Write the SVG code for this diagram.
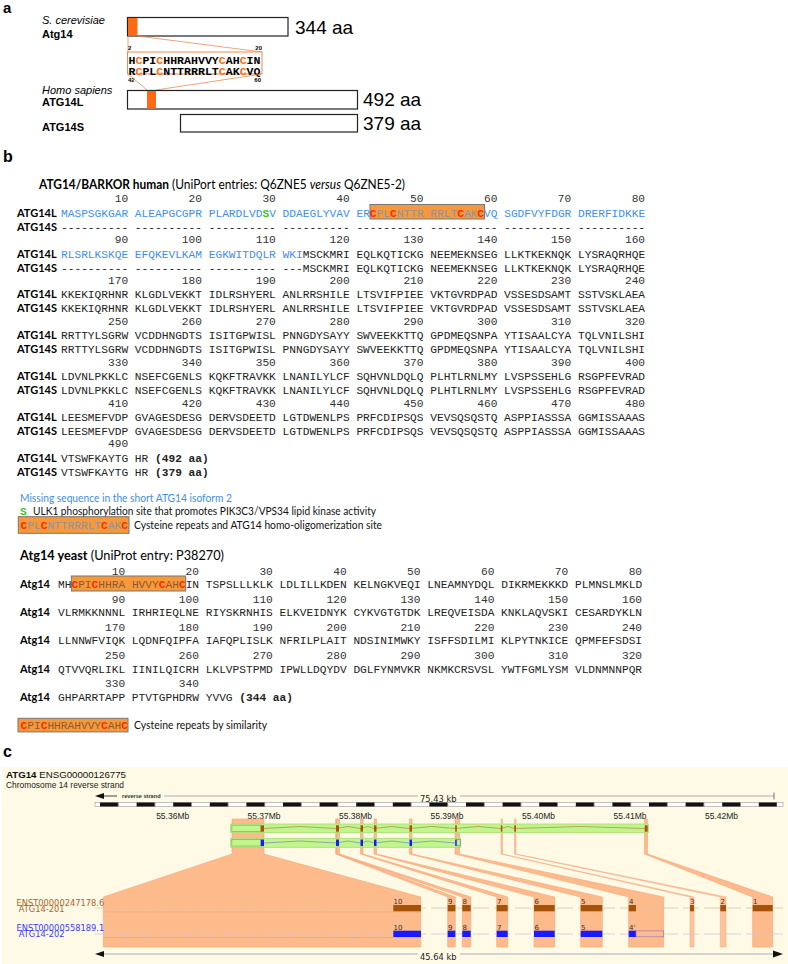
<svg xmlns="http://www.w3.org/2000/svg" width="788" height="964" viewBox="0 0 788 964">
<style>
.sans{font-family:"Liberation Sans",Arial,sans-serif}
.cal{font-family:Lato,"Liberation Sans",sans-serif}
.mono{font-family:"Liberation Mono","Courier New",monospace;font-size:11.2px;fill:#222}
.lab{font-family:Lato,"Liberation Sans",sans-serif;font-weight:700;font-size:11px;fill:#000}
.num{fill:#333}
.bl{fill:#3d8ef2}
.rc{fill:#ff2a00;font-weight:700}
.gh{fill:#8c93a8}
.gy{fill:#8b5a32}
.gr{fill:#33cc11;font-weight:700}
.b{font-weight:700}
.dj{font-family:"DejaVu Sans",sans-serif}
.obox{fill:#f7993a;stroke:#777;stroke-width:1}
.bar{fill:#fff;stroke:#222;stroke-width:1.2}
.oc{fill:#ff6a13}
.band{fill:#fdbb8c;stroke:#f5a277;stroke-width:0.6}
.grn{fill:#c2f58c;stroke:#a6dc74;stroke-width:0.8}
.brn{fill:#a5520a}
.blu{fill:#1a1aff}
.en{font-family:"DejaVu Sans",sans-serif;font-size:7px;fill:#333}
</style>
<defs>
<pattern id="scl" patternUnits="userSpaceOnUse" x="100" y="0" width="36.6" height="964">
<rect x="0" y="0" width="18.3" height="964" fill="#111"/>
</pattern>
</defs>
<rect width="788" height="964" fill="#fff"/>

<!-- Panel a -->
<g id="panel-a">
<text x="3" y="13" class="sans b" font-size="15">a</text>
<g id="yeast-bar">
<text x="42" y="23.5" class="sans" font-size="11" font-style="italic">S. cerevisiae</text>
<text x="42" y="37.5" class="sans b" font-size="11">Atg14</text>
<rect x="127.5" y="17.5" width="160.5" height="18.5" class="bar"/>
<rect x="128" y="18" width="9.5" height="17.5" fill="#ff6a13"/>
<text x="295" y="33.5" class="sans" font-size="19">344 aa</text>
</g>
<g id="seq-box">
<line x1="128" y1="36" x2="128" y2="52" stroke="#f08a50" stroke-width="0.8"/>
<line x1="137.5" y1="36" x2="262" y2="52" stroke="#f08a50" stroke-width="0.8"/>
<rect x="127.5" y="52" width="134.5" height="22" fill="#fff" stroke="#f08a50" stroke-width="1"/>
<text x="128" y="50" font-family="Liberation Sans,sans-serif" font-size="6" font-weight="700">2</text>
<text x="262" y="50" font-family="Liberation Sans,sans-serif" font-size="6" font-weight="700" text-anchor="end">20</text>
<text x="128.5" y="63.5" font-family="Liberation Mono,monospace" font-size="11.5" font-weight="700" textLength="132" lengthAdjust="spacingAndGlyphs">H<tspan class="oc">C</tspan>PI<tspan class="oc">C</tspan>HHRAHVVY<tspan class="oc">C</tspan>AH<tspan class="oc">C</tspan>IN</text>
<text x="128.5" y="75" font-family="Liberation Mono,monospace" font-size="11.5" font-weight="700" textLength="132" lengthAdjust="spacingAndGlyphs">R<tspan class="oc">C</tspan>PL<tspan class="oc">C</tspan>NTTRRRLT<tspan class="oc">C</tspan>AK<tspan class="oc">C</tspan>VQ</text>
<text x="128" y="81.5" font-family="Liberation Sans,sans-serif" font-size="6" font-weight="700">42</text>
<text x="261" y="81.5" font-family="Liberation Sans,sans-serif" font-size="6" font-weight="700" text-anchor="end">60</text>
<line x1="128" y1="74" x2="147" y2="90" stroke="#f08a50" stroke-width="0.8"/>
<line x1="262" y1="74" x2="156" y2="90" stroke="#f08a50" stroke-width="0.8"/>
</g>
<g id="human-L-bar">
<text x="42" y="94" class="sans" font-size="11" font-style="italic">Homo sapiens</text>
<text x="42" y="106" class="sans b" font-size="11">ATG14L</text>
<rect x="127.5" y="90.5" width="230" height="18.5" class="bar"/>
<rect x="147" y="91" width="9" height="17.5" fill="#ff6a13"/>
<text x="363" y="106" class="sans" font-size="19">492 aa</text>
</g>
<g id="human-S-bar">
<text x="42" y="130.5" class="sans b" font-size="11">ATG14S</text>
<rect x="180.5" y="114.5" width="177" height="17.5" class="bar"/>
<text x="363" y="130" class="sans" font-size="19">379 aa</text>
</g>
</g>

<!-- Panel b -->
<g id="panel-b">
<text x="3" y="162" class="sans b" font-size="16">b</text>
<text x="39" y="189" class="cal" font-size="13" textLength="366" lengthAdjust="spacingAndGlyphs"><tspan class="b">ATG14/BARKOR human</tspan> (UniPort entries: Q6ZNE5 <tspan font-style="italic">versus</tspan> Q6ZNE5-2)</text>

<g id="human-alignment">
<rect x="370" y="204.5" width="114.5" height="14.5" class="obox"/>
<text x="61" y="202" class="mono num" xml:space="preserve">        10         20         30         40         50         60         70         80</text>
<text x="17" y="216.5" class="lab">ATG14L</text>
<text x="61" y="216.5" class="mono" xml:space="preserve"><tspan class="bl">MASPSGKGAR ALEAPGCGPR PLARDLVD</tspan><tspan class="gr">S</tspan><tspan class="bl">V DDAEGLYVAV ER</tspan><tspan class="rc">C</tspan><tspan class="gh">PL</tspan><tspan class="rc">C</tspan><tspan class="gh">NTTR RRLT</tspan><tspan class="rc">C</tspan><tspan class="gh">AK</tspan><tspan class="rc">C</tspan><tspan class="bl">VQ SGDFVYFDGR DRERFIDKKE</tspan></text>
<text x="17" y="230.5" class="lab">ATG14S</text>
<text x="61" y="230.5" class="mono" xml:space="preserve">---------- ---------- ---------- ---------- ---------- ---------- ---------- ----------</text>

<text x="61" y="243" class="mono num" xml:space="preserve">        90        100        110        120        130        140        150        160</text>
<text x="17" y="257.5" class="lab">ATG14L</text>
<text x="61" y="257.5" class="mono" xml:space="preserve"><tspan class="bl">RLSRLKSKQE EFQKEVLKAM EGKWITDQLR WKI</tspan>MSCKMRI EQLKQTICKG NEEMEKNSEG LLKTKEKNQK LYSRAQRHQE</text>
<text x="17" y="271.5" class="lab">ATG14S</text>
<text x="61" y="271.5" class="mono" xml:space="preserve">---------- ---------- ---------- ---MSCKMRI EQLKQTICKG NEEMEKNSEG LLKTKEKNQK LYSRAQRHQE</text>

<text x="61" y="283.8" class="mono num" xml:space="preserve">       170        180        190        200        210        220        230        240</text>
<text x="17" y="298.3" class="lab">ATG14L</text>
<text x="61" y="298.3" class="mono">KKEKIQRHNR KLGDLVEKKT IDLRSHYERL ANLRRSHILE LTSVIFPIEE VKTGVRDPAD VSSESDSAMT SSTVSKLAEA</text>
<text x="17" y="312.3" class="lab">ATG14S</text>
<text x="61" y="312.3" class="mono">KKEKIQRHNR KLGDLVEKKT IDLRSHYERL ANLRRSHILE LTSVIFPIEE VKTGVRDPAD VSSESDSAMT SSTVSKLAEA</text>

<text x="61" y="324.7" class="mono num" xml:space="preserve">       250        260        270        280        290        300        310        320</text>
<text x="17" y="339.2" class="lab">ATG14L</text>
<text x="61" y="339.2" class="mono">RRTTYLSGRW VCDDHNGDTS ISITGPWISL PNNGDYSAYY SWVEEKKTTQ GPDMEQSNPA YTISAALCYA TQLVNILSHI</text>
<text x="17" y="353.2" class="lab">ATG14S</text>
<text x="61" y="353.2" class="mono">RRTTYLSGRW VCDDHNGDTS ISITGPWISL PNNGDYSAYY SWVEEKKTTQ GPDMEQSNPA YTISAALCYA TQLVNILSHI</text>

<text x="61" y="365.6" class="mono num" xml:space="preserve">       330        340        350        360        370        380        390        400</text>
<text x="17" y="380.1" class="lab">ATG14L</text>
<text x="61" y="380.1" class="mono">LDVNLPKKLC NSEFCGENLS KQKFTRAVKK LNANILYLCF SQHVNLDQLQ PLHTLRNLMY LVSPSSEHLG RSGPFEVRAD</text>
<text x="17" y="394.1" class="lab">ATG14S</text>
<text x="61" y="394.1" class="mono">LDVNLPKKLC NSEFCGENLS KQKFTRAVKK LNANILYLCF SQHVNLDQLQ PLHTLRNLMY LVSPSSEHLG RSGPFEVRAD</text>

<text x="61" y="406.5" class="mono num" xml:space="preserve">       410        420        430        440        450        460        470        480</text>
<text x="17" y="421" class="lab">ATG14L</text>
<text x="61" y="421" class="mono">LEESMEFVDP GVAGESDESG DERVSDEETD LGTDWENLPS PRFCDIPSQS VEVSQSQSTQ ASPPIASSSA GGMISSAAAS</text>
<text x="17" y="435" class="lab">ATG14S</text>
<text x="61" y="435" class="mono">LEESMEFVDP GVAGESDESG DERVSDEETD LGTDWENLPS PRFCDIPSQS VEVSQSQSTQ ASPPIASSSA GGMISSAAAS</text>

<text x="61" y="447.4" class="mono num" xml:space="preserve">       490</text>
<text x="17" y="461.9" class="lab">ATG14L</text>
<text x="61" y="461.9" class="mono" xml:space="preserve">VTSWFKAYTG HR <tspan class="b">(492 aa)</tspan></text>
<text x="17" y="475.5" class="lab">ATG14S</text>
<text x="61" y="475.5" class="mono" xml:space="preserve">VTSWFKAYTG HR <tspan class="b">(379 aa)</tspan></text>
</g>

<g id="human-legend">
<text x="20" y="501.5" class="cal" font-size="12" fill="#3d8ef2" textLength="212" lengthAdjust="spacingAndGlyphs">Missing sequence in the short ATG14 isoform 2</text>
<text x="20" y="514.5" class="mono gr">S</text>
<text x="33" y="514.5" class="cal" font-size="11.5" fill="#111" textLength="343" lengthAdjust="spacingAndGlyphs">ULK1 phosphorylation site that promotes PIK3C3/VPS34 lipid kinase activity</text>
<rect x="18.3" y="516.7" width="110.7" height="16.6" class="obox"/>
<text x="20.5" y="529" class="mono"><tspan class="rc">C</tspan><tspan class="gh">PL</tspan><tspan class="rc">C</tspan><tspan class="gh">NTTRRRLT</tspan><tspan class="rc">C</tspan><tspan class="gh">AK</tspan><tspan class="rc">C</tspan></text>
<text x="134" y="529" class="cal" font-size="12" fill="#111" textLength="248" lengthAdjust="spacingAndGlyphs">Cysteine repeats and ATG14 homo-oligomerization site</text>
</g>

<text x="20" y="559.5" class="cal" font-size="13" textLength="204" lengthAdjust="spacingAndGlyphs"><tspan class="b">Atg14 yeast</tspan> (UniProt entry: P38270)</text>

<g id="yeast-alignment">
<rect x="71.4" y="576" width="114.3" height="15" class="obox"/>
<text x="58" y="574.7" class="mono num" xml:space="preserve">        10         20         30         40         50         60         70         80</text>
<text x="20" y="588.2" class="lab">Atg14</text>
<text x="58" y="588.2" class="mono" xml:space="preserve">MH<tspan class="rc">C</tspan><tspan class="gy">PI</tspan><tspan class="rc">C</tspan><tspan class="gy">HHRA HVVY</tspan><tspan class="rc">C</tspan><tspan class="gy">AH</tspan><tspan class="rc">C</tspan>IN TSPSLLLKLK LDLILLKDEN KELNGKVEQI LNEAMNYDQL DIKRMEKKKD PLMNSLMKLD</text>
<text x="58" y="602.8" class="mono num" xml:space="preserve">        90        100        110        120        130        140        150        160</text>
<text x="20" y="616.3" class="lab">Atg14</text>
<text x="58" y="616.3" class="mono">VLRMKKNNNL IRHRIEQLNE RIYSKRNHIS ELKVEIDNYK CYKVGTGTDK LREQVEISDA KNKLAQVSKI CESARDYKLN</text>
<text x="58" y="630.9" class="mono num" xml:space="preserve">       170        180        190        200        210        220        230        240</text>
<text x="20" y="644.4" class="lab">Atg14</text>
<text x="58" y="644.4" class="mono">LLNNWFVIQK LQDNFQIPFA IAFQPLISLK NFRILPLAIT NDSINIMWKY ISFFSDILMI KLPYTNKICE QPMFEFSDSI</text>
<text x="58" y="659" class="mono num" xml:space="preserve">       250        260        270        280        290        300        310        320</text>
<text x="20" y="672.5" class="lab">Atg14</text>
<text x="58" y="672.5" class="mono">QTVVQRLIKL IINILQICRH LKLVPSTPMD IPWLLDQYDV DGLFYNMVKR NKMKCRSVSL YWTFGMLYSM VLDNMNNPQR</text>
<text x="58" y="687" class="mono num" xml:space="preserve">       330        340</text>
<text x="20" y="700.5" class="lab">Atg14</text>
<text x="58" y="700.5" class="mono" xml:space="preserve">GHPARRTAPP PTVTGPHDRW YVVG <tspan class="b">(344 aa)</tspan></text>
</g>

<g id="yeast-legend">
<rect x="18" y="718.3" width="110" height="13.6" class="obox"/>
<text x="20.5" y="729" class="mono"><tspan class="rc">C</tspan><tspan class="gy">PI</tspan><tspan class="rc">C</tspan><tspan class="gy">HHRAHVVY</tspan><tspan class="rc">C</tspan><tspan class="gy">AH</tspan><tspan class="rc">C</tspan></text>
<text x="134" y="729" class="cal" font-size="12" fill="#111" textLength="133" lengthAdjust="spacingAndGlyphs">Cysteine repeats by similarity</text>
</g>
</g>

<!-- Panel c -->
<g id="panel-c">
<text x="3" y="757" class="sans b" font-size="16">c</text>
<rect x="2" y="767" width="786" height="197" fill="#fefae6"/>
<text x="6" y="777.5" class="sans" font-size="9.7" fill="#111"><tspan class="b">ATG14</tspan> ENSG00000126775</text>
<text x="6" y="787.5" class="sans" font-size="9.5" fill="#222" textLength="118" lengthAdjust="spacingAndGlyphs">Chromosome 14 reverse strand</text>

<g id="ruler">
<polygon points="95,796 104,793 104,799" fill="#111"/>
<line x1="104" y1="796" x2="117" y2="796" stroke="#111" stroke-width="0.8"/>
<text x="122" y="798" class="sans b" font-size="5.6" fill="#333">reverse strand</text>
<line x1="164" y1="796" x2="418" y2="796" stroke="#8a8aa8" stroke-width="0.7"/>
<text x="420" y="801.5" class="dj" font-size="8.3" fill="#222">75.43 kb</text>
<line x1="460" y1="796" x2="774" y2="796" stroke="#8a8aa8" stroke-width="0.7"/>
<line x1="774" y1="792.5" x2="774" y2="799.5" stroke="#555" stroke-width="0.8"/>
<rect x="95" y="802.5" width="688" height="4" fill="#fff" stroke="#999" stroke-width="0.6"/>
<rect x="100" y="802.5" width="677" height="4" fill="url(#scl)"/>
<g class="sans" font-size="8.5" fill="#222" text-anchor="middle">
<text x="172.7" y="819">55.36Mb</text>
<text x="264" y="819">55.37Mb</text>
<text x="355.5" y="819">55.38Mb</text>
<text x="447" y="819">55.39Mb</text>
<text x="538.5" y="819">55.40Mb</text>
<text x="630" y="819">55.41Mb</text>
<text x="721.5" y="819">55.42Mb</text>
</g>
</g>

<g id="exon-bands">
<polygon class="band" points="232,819 264,819 264,854 420.7,897 420.7,947 103.3,947 103.3,897 232,854"/>
<polygon class="band" points="335.7,819 338.7,819 338.7,854 455.3,897 455.3,947 447.7,947 447.7,897 335.7,854"/>
<polygon class="band" points="336.7,819 339.5,819 339.5,854 470.7,897 470.7,947 462.3,947 462.3,897 336.7,854"/>
<polygon class="band" points="360.5,819 363,819 363,854 507.7,897 507.7,947 496.7,947 496.7,897 360.5,854"/>
<polygon class="band" points="374,819 376.5,819 376.5,854 554.7,897 554.7,947 534,947 534,897 374,854"/>
<polygon class="band" points="409.5,819 412,819 412,854 602.3,897 602.3,947 580.7,947 580.7,897 409.5,854"/>
<polygon class="band" points="455,819 459.5,819 459.5,854 663.7,897 663.7,947 628.7,947 628.7,897 455,854"/>
<polygon class="band" points="501,819 502.5,819 502.5,854 694,897 694,947 690,947 690,897 501,854" opacity="0.85"/>
<polygon class="band" points="514.5,819 516,819 516,854 726,897 726,947 720.3,947 720.3,897 514.5,854" opacity="0.85"/>
<polygon class="band" points="644.5,819 647.5,819 647.5,854 772.7,897 772.7,947 752.7,947 752.7,897 644.5,854"/>
</g>

<g id="transcript-201-top">
<rect x="230.7" y="824" width="417.6" height="8.7" class="grn"/>
<rect x="231.8" y="825.2" width="29" height="6.3" fill="none" stroke="#86bb5a" stroke-width="0.8"/>
<polyline points="264,828.5 300,826.5 336,828.5 348,826.5 360.5,828.5 368,826.5 374,828.5 392,826.5 409.5,828.5 432,826.5 455,828.5 478,826.5 500.8,828.5 508,826.5 514.3,828.5 580,826.5 644.7,828.5" fill="none" stroke="#b07040" stroke-width="0.6"/>
<rect x="260.8" y="825.3" width="3.2" height="6.4" class="brn"/>
<rect x="336" y="825.3" width="3" height="6.4" class="brn"/>
<rect x="360.5" y="825.3" width="2.5" height="6.4" class="brn"/>
<rect x="374" y="825.3" width="2.5" height="6.4" class="brn"/>
<rect x="409.5" y="825.3" width="2.5" height="6.4" class="brn"/>
<rect x="455.2" y="825.3" width="1.6" height="6.4" class="brn"/>
<rect x="500.8" y="825.3" width="1.5" height="6.4" class="brn"/>
<rect x="514.3" y="825.3" width="1.7" height="6.4" class="brn"/>
<rect x="644.7" y="825.3" width="3" height="6.4" class="brn"/>
</g>
<g id="transcript-202-top">
<rect x="230.7" y="838.3" width="230" height="9" class="grn"/>
<rect x="231.8" y="839.5" width="29" height="6.5" fill="none" stroke="#86bb5a" stroke-width="0.8"/>
<polyline points="264,843 300,841 336,843 348,841 360.5,843 368,841 374,843 392,841 409.5,843 432,841 455,843" fill="none" stroke="#7070d0" stroke-width="0.6"/>
<rect x="260.8" y="839.5" width="3.2" height="6.6" class="blu"/>
<rect x="336" y="839.5" width="3" height="6.6" class="blu"/>
<rect x="360.5" y="839.5" width="2.5" height="6.6" class="blu"/>
<rect x="374" y="839.5" width="2.5" height="6.6" class="blu"/>
<rect x="409.5" y="839.5" width="2.5" height="6.6" class="blu"/>
<rect x="455.2" y="839.5" width="1.6" height="6.6" class="blu"/>
<rect x="456.8" y="839.7" width="3.4" height="6.2" fill="none" stroke="#6a6ad0" stroke-width="0.6"/>
</g>

<g id="transcript-201">
<line x1="95" y1="908" x2="785" y2="908" stroke="#dcc2a8" stroke-width="0.8" stroke-dasharray="16 5"/>
<line x1="103.3" y1="912" x2="421" y2="912" stroke="#e6a77c" stroke-width="0.6"/>
<text x="16.5" y="905.5" class="dj" font-size="8.3" fill="#b0651f">ENST00000247178.6</text>
<text x="18.7" y="911.5" class="dj" font-size="8.3" fill="#b0651f">ATG14-201</text>
<rect x="393.3" y="905" width="27.7" height="6.3" class="brn"/>
<rect x="447.7" y="905" width="7.6" height="6.3" class="brn"/>
<rect x="462.3" y="905" width="8.4" height="6.3" class="brn"/>
<rect x="496.7" y="905" width="11" height="6.3" class="brn"/>
<rect x="534" y="905" width="20.7" height="6.3" class="brn"/>
<rect x="580.7" y="905" width="21.6" height="6.3" class="brn"/>
<rect x="628.7" y="905" width="7.3" height="6.3" class="brn"/>
<rect x="690" y="905" width="4" height="6.3" class="brn"/>
<rect x="720.3" y="905" width="5.7" height="6.3" class="brn"/>
<rect x="752.7" y="905" width="20" height="6.3" class="brn"/>
<text x="393.5" y="904" class="en">10</text>
<text x="448" y="904" class="en">9</text>
<text x="462.5" y="904" class="en">8</text>
<text x="497" y="904" class="en">7</text>
<text x="534.5" y="904" class="en">6</text>
<text x="581" y="904" class="en">5</text>
<text x="629" y="904" class="en">4</text>
<text x="690" y="904" class="en">3</text>
<text x="720.5" y="904" class="en">2</text>
<text x="753" y="904" class="en">1</text>
</g>

<g id="transcript-202">
<line x1="95" y1="934" x2="785" y2="934" stroke="#cfc6dc" stroke-width="0.8" stroke-dasharray="16 5"/>
<line x1="103.3" y1="937.5" x2="421" y2="937.5" stroke="#c9a2a0" stroke-width="0.6"/>
<text x="16.5" y="930.5" class="dj" font-size="8.3" fill="#3a3aff">ENST00000558189.1</text>
<text x="18.7" y="936.5" class="dj" font-size="8.3" fill="#3a3aff">ATG14-202</text>
<rect x="393.3" y="930.7" width="27.7" height="6.3" class="blu"/>
<rect x="447.7" y="930.7" width="7.6" height="6.3" class="blu"/>
<rect x="462.3" y="930.7" width="8.4" height="6.3" class="blu"/>
<rect x="496.7" y="930.7" width="11" height="6.3" class="blu"/>
<rect x="534" y="930.7" width="20.7" height="6.3" class="blu"/>
<rect x="580.7" y="930.7" width="21.6" height="6.3" class="blu"/>
<rect x="628.7" y="930.7" width="7.3" height="6.3" class="blu"/>
<rect x="636" y="930.9" width="27.7" height="5.9" fill="none" stroke="#9a70b0" stroke-width="0.6"/>
<text x="393.5" y="929.5" class="en">10</text>
<text x="448" y="929.5" class="en">9</text>
<text x="462.5" y="929.5" class="en">8</text>
<text x="497" y="929.5" class="en">7</text>
<text x="534.5" y="929.5" class="en">6</text>
<text x="581" y="929.5" class="en">5</text>
<text x="629" y="929.5" class="en">4'</text>
</g>

<g id="length-bar">
<polygon points="95,954 104,951 104,957" fill="#111"/>
<line x1="104" y1="954" x2="418" y2="954" stroke="#8a8aa8" stroke-width="0.7"/>
<text x="420" y="960" class="dj" font-size="8.3" fill="#222">45.64 kb</text>
<line x1="460" y1="954" x2="774" y2="954" stroke="#8a8aa8" stroke-width="0.7"/>
<polygon points="783,954 773,950.5 773,957.5" fill="#111"/>
</g>
</g>
</svg>
